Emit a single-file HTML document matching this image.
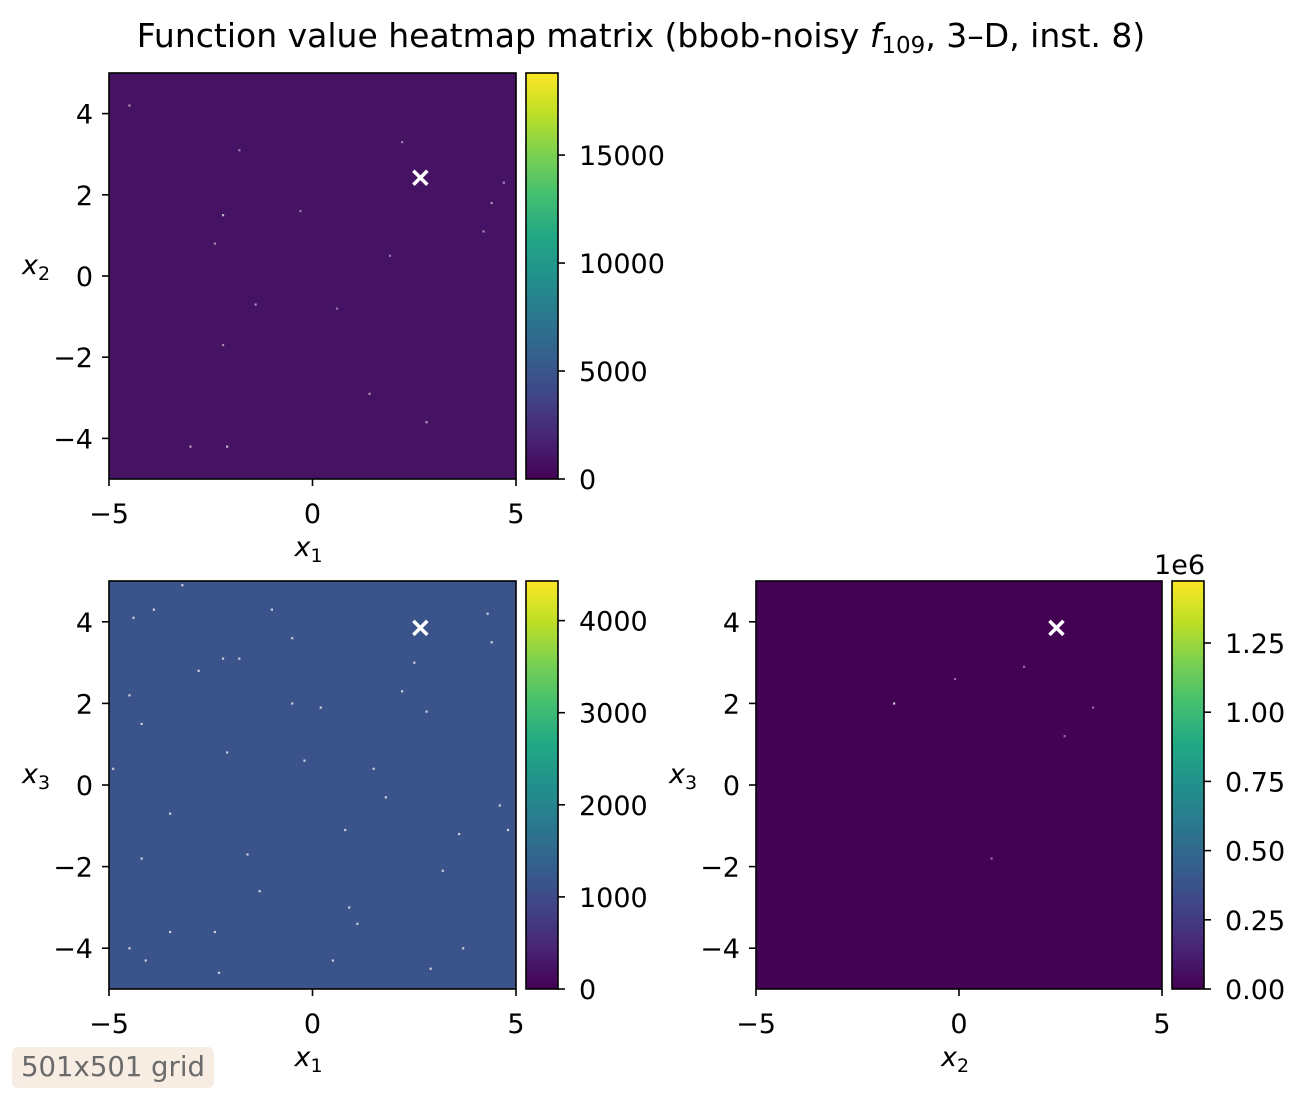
<!DOCTYPE html>
<html><head><meta charset="utf-8"><style>
html,body{margin:0;padding:0;background:#fff;}
svg{display:block;font-family:"DejaVu Sans","Liberation Sans",sans-serif;}
.badge{position:absolute;left:12px;top:1047px;width:202px;height:41px;background:#f8ede3;border-radius:6px;color:#6b6b6b;font:27.5px "DejaVu Sans",sans-serif;line-height:41px;text-align:center;white-space:nowrap;}
</style></head><body>
<div style="position:relative;width:1305px;height:1102px;">
<svg id="chart" width="1305" height="1102" viewBox="0 0 1305 1102">
<defs>
<linearGradient id="viridis" x1="0" y1="1" x2="0" y2="0">
<stop offset="0" stop-color="#440154"/><stop offset="0.1" stop-color="#482475"/><stop offset="0.2" stop-color="#414487"/><stop offset="0.3" stop-color="#355f8d"/><stop offset="0.4" stop-color="#2a788e"/><stop offset="0.5" stop-color="#21918c"/><stop offset="0.6" stop-color="#22a884"/><stop offset="0.7" stop-color="#44bf70"/><stop offset="0.8" stop-color="#7ad151"/><stop offset="0.9" stop-color="#bddf26"/><stop offset="1" stop-color="#fde725"/>
</linearGradient>
</defs>
<text x="641" y="47" text-anchor="middle" font-size="33">Function value heatmap matrix (bbob-noisy <tspan font-style="italic">f</tspan><tspan font-size="23" dy="6">109</tspan><tspan dy="-6">, 3–D, inst. 8)</tspan></text>
</svg>
<div class="badge">501x501 grid</div>
</div>
<script>
const xTicks=[-5,0,5];
const yTicks=[-4,-2,0,2,4];
const p1Base=900, p2Base=1150, p3Base=3000;
const p1Max=18800, p2Max=4430, p3Max=1474000;
const cb1Ticks=[0,5000,10000,15000];
const cb2Ticks=[0,1000,2000,3000,4000];
const cb3Ticks=[0,250000,500000,750000,1000000,1250000];
const cb3Labels=["0.00","0.25","0.50","0.75","1.00","1.25"];
const opt1=[2.65,2.42], opt2=[2.65,3.85], opt3=[2.4,3.85];
const spk1X=[-4.5,-2.2,-2.4,-1.4,-2.2,1.4,2.8,-3,-2.1,4.2,4.4,4.7,1.9,-0.3,2.2,-1.8,0.6];
const spk1Y=[4.2,1.5,0.8,-0.7,-1.7,-2.9,-3.6,-4.2,-4.2,1.1,1.8,2.3,0.5,1.6,3.3,3.1,-0.8];
const spk1V=[6000,9000,5000,6000,5000,6000,7000,7000,9000,5000,6000,5000,4000,4000,4000,4000,3500];
const spk2X=[-4.4,-3.9,-2.2,-1.8,-4.5,-4.2,-2.1,-0.2,0.2,-0.5,1.5,2.8,4.6,3.6,-3.5,-1.6,-2.4,-4.1,-4.5,0.5,3.7,1.1,-2.3,0.8,4.8,-2.8,-0.5,2.5,4.4,-4.2,-1.3,1.8,3.2,-4.9,0.9,-3.5,2.9,4.3,-3.2,-1,2.2];
const spk2Y=[4.1,4.3,3.1,3.1,2.2,1.5,0.8,0.6,1.9,2.0,0.4,1.8,-0.5,-1.2,-0.7,-1.7,-3.6,-4.3,-4.0,-4.3,-4.0,-3.4,-4.6,-1.1,-1.1,2.8,3.6,3.0,3.5,-1.8,-2.6,-0.3,-2.1,0.4,-3.0,-3.6,-4.5,4.2,4.9,4.3,2.3];
const spk2V=[3400,3300,3800,3200,3300,3500,3200,3400,3300,3600,3300,3500,3200,3300,3300,3200,3500,3600,3400,3300,3300,3300,3300,3500,3300,3400,3400,3500,3500,3300,3300,3400,3300,3400,3300,3300,3300,3300,3300,3300,3300];
const spk3X=[-1.6,0.8,1.6,3.3,-0.1,2.6];
const spk3Y=[2.0,-1.8,2.9,1.9,2.6,1.2];
const spk3V=[900000,300000,300000,250000,250000,250000];

const NS="http://www.w3.org/2000/svg";
const svg=document.getElementById('chart');
const stops=[[68,1,84],[72,36,117],[65,68,135],[53,95,141],[42,120,142],[33,145,140],[34,168,132],[68,191,112],[122,209,81],[189,223,38],[253,231,37]];
function viridis(t){t=Math.max(0,Math.min(1,t));const f=t*10,i=Math.min(9,Math.floor(f)),r=f-i;const a=stops[i],b=stops[i+1];return `rgb(${a.map((v,k)=>Math.round(v+(b[k]-v)*r)).join(',')})`;}
function el(tag,attrs,parent){const e=document.createElementNS(NS,tag);for(const k in attrs)e.setAttribute(k,attrs[k]);(parent||svg).appendChild(e);return e;}
function txt(s,x,y,anchor,size,parent){const t=el('text',{x:x,y:y,'text-anchor':anchor,'font-size':size},parent);t.textContent=s;return t;}
function fmt(v){return v<0?'\u2212'+(-v):String(v);}

function panel(id,L,T,W,H,base,max,sx,sy,sv,opt,xlab,ylab,cbL,cbTicks,cbLabels,cbHead){
  const g=el('g',{});
  
  
  const xs=v=>L+(v+5)/10*W, ys=v=>T+H-(v+5)/10*H;
  const bg=el('rect',{x:L,y:T,width:W,height:H,fill:viridis(base/max)},g);
  
  
  for(let i=0;i<sx.length;i++){
    const c=el('rect',{x:xs(sx[i])-1,y:ys(sy[i])-1,width:2.2,height:2.2,fill:'#e8e4ee',opacity:Math.min(0.85,0.3+sv[i]/max)},g);
    
    
  }
  const mx=xs(opt[0]),my=ys(opt[1]);
  const m=el('path',{d:`M${mx-7},${my-7}L${mx+7},${my+7}M${mx-7},${my+7}L${mx+7},${my-7}`,stroke:'#fff','stroke-width':3.5},g);
  
  
  el('rect',{x:L,y:T,width:W,height:H,fill:'none',stroke:'#000','stroke-width':1.6},g);
  xTicks.forEach(v=>{el('line',{x1:xs(v),x2:xs(v),y1:T+H,y2:T+H+7,stroke:'#000','stroke-width':1.6},g);
    const t=txt(fmt(v),xs(v),T+H+44,'middle',27,g);});
  yTicks.forEach(v=>{el('line',{x1:L-7,x2:L,y1:ys(v),y2:ys(v),stroke:'#000','stroke-width':1.6},g);
    const t=txt(fmt(v),L-16,ys(v)+10,'end',27,g);});
  const xl=el('text',{x:L+W/2-4,y:T+H+77,'text-anchor':'middle','font-size':27,'font-style':'italic'},g);
  xl.innerHTML=`x<tspan font-size="19" font-style="normal" dy="6">${xlab}</tspan>`;
  
  const yl=el('text',{x:L-87,y:T+H/2-2,'text-anchor':'start','font-size':27,'font-style':'italic'},g);
  yl.innerHTML=`x<tspan font-size="19" font-style="normal" dy="6">${ylab}</tspan>`;
  
  const cb=el('rect',{x:cbL,y:T,width:32,height:H,fill:'url(#viridis)',stroke:'#000','stroke-width':1.6},g);
  
  const cy=v=>T+H-v/max*H;
  cbTicks.forEach((v,i)=>{el('line',{x1:cbL+32,x2:cbL+39,y1:cy(v),y2:cy(v),stroke:'#000','stroke-width':1.6},g);
    const t=txt(cbLabels?cbLabels[i]:String(v),cbL+53,cy(v)+10,'start',27,g);});
  if(cbHead){const t=txt(cbHead,cbL+33,T-7,'end',27,g);}
}
panel('panel-x1-x2',109,73,407,406,p1Base,p1Max,spk1X,spk1Y,spk1V,opt1,'1','2',526,cb1Ticks,null,null);
panel('panel-x1-x3',109,581,407,408,p2Base,p2Max,spk2X,spk2Y,spk2V,opt2,'1','3',526,cb2Ticks,null,null);
panel('panel-x2-x3',756,581,406,408,p3Base,p3Max,spk3X,spk3Y,spk3V,opt3,'2','3',1172,cb3Ticks,cb3Labels,'1e6');
</script>
</body></html>
